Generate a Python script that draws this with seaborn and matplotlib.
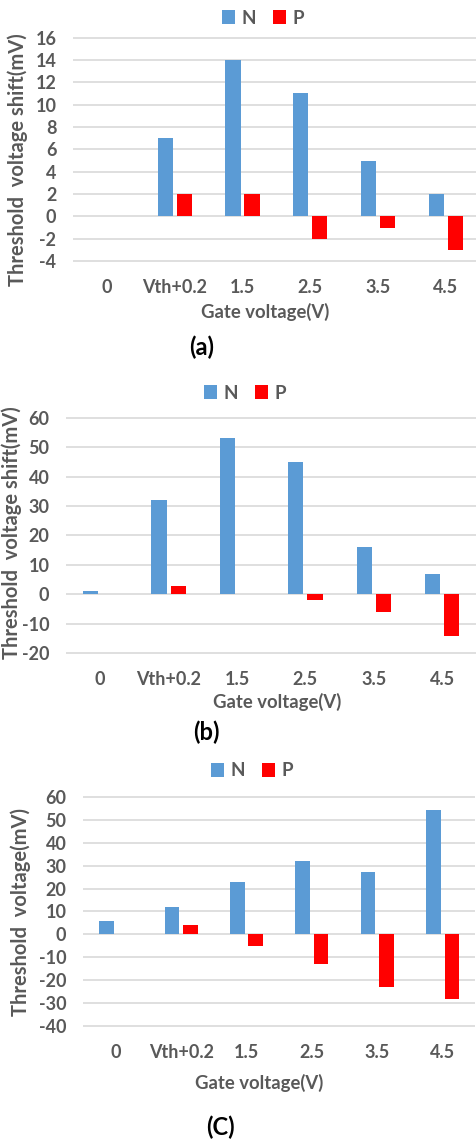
import matplotlib
matplotlib.use("Agg")
import matplotlib.pyplot as plt
import seaborn as sns
import pandas as pd
from matplotlib.patches import Patch

# Gate-voltage categories shared by all three panels
gate_labels = ["0", "Vth+0.2", "1.5", "2.5", "3.5", "4.5"]

# Panel (a): threshold voltage shift (mV)
a_n = [0, 7, 14, 11, 5, 2]
a_p = [0, 2, 2, -2, -1, -3]
a_ticks = [-4, -2, 0, 2, 4, 6, 8, 10, 12, 14, 16]

# Panel (b): threshold voltage shift (mV)
b_n = [1, 32, 53, 45, 16, 7]
b_p = [0, 3, 0, -2, -6, -14]
b_ticks = [-20, -10, 0, 10, 20, 30, 40, 50, 60]

# Panel (c): threshold voltage (mV)
c_n = [6, 12, 23, 32, 27, 54]
c_p = [0, 4, -5, -13, -23, -28]
c_ticks = [-40, -30, -20, -10, 0, 10, 20, 30, 40, 50, 60]

series_names = ["N", "P"]
series_colors = {"N": "#5B9BD5", "P": "#FF0000"}
TEXT = "#595959"
GRID = "#D9D9D9"

sns.set_theme(style="white")
plt.rcParams["font.family"] = ["Lato", "DejaVu Sans"]
plt.rcParams["font.weight"] = "bold"

W, H = 477, 1140
fig = plt.figure(figsize=(W / 100, H / 100), dpi=100)


def fx(x):
    return x / W


def fy(y):
    return 1 - y / H


def panel(n_vals, p_vals, ticks, box, spacing, ylabel, ylabel_xy,
          xlabel_xy, legend_xy, caption, caption_xy):
    left, right, top, bottom = box
    ax = fig.add_axes([fx(left), fy(bottom), (right - left) / W, (bottom - top) / H])
    df = pd.DataFrame({
        "gate": gate_labels * 2,
        "value": list(n_vals) + list(p_vals),
        "type": ["N"] * len(n_vals) + ["P"] * len(p_vals),
    })
    sns.barplot(data=df, x="gate", y="value", hue="type", order=gate_labels,
                hue_order=series_names, palette=series_colors, saturation=1,
                width=0.56, gap=0.2, dodge=True, linewidth=0, errorbar=None,
                ax=ax, legend=False, zorder=3)
    ax.set_xlim(-0.5, (right - left) / spacing - 0.5)
    span = ticks[-1] - ticks[0]
    ax.set_ylim(ticks[0] - span * 0.004, ticks[-1] + span * 0.004)
    ax.set_yticks(ticks)
    ax.set_yticklabels([str(t) for t in ticks])
    for sp in ax.spines.values():
        sp.set_visible(False)
    ax.yaxis.grid(True, color=GRID, linewidth=1.2, zorder=0)
    ax.xaxis.grid(False)
    ax.set_axisbelow(True)
    ax.tick_params(axis="both", length=0, labelsize=13, labelcolor=TEXT)
    ax.tick_params(axis="y", pad=12)
    ax.tick_params(axis="x", pad=12)
    for lab in ax.get_xticklabels() + ax.get_yticklabels():
        lab.set_fontweight("bold")
    ax.set_xlabel("")
    ax.set_ylabel("")
    fig.text(fx(xlabel_xy[0]), fy(xlabel_xy[1]), "Gate voltage(V)", ha="center",
             va="center", fontsize=13.3, fontweight="bold", color=TEXT)
    fig.text(fx(ylabel_xy[0]), fy(ylabel_xy[1]), ylabel, ha="center", va="center",
             rotation=90, fontsize=14.5, fontweight="bold", color=TEXT)
    handles = [Patch(facecolor=series_colors[s], edgecolor="none", label=s)
               for s in series_names]
    leg = fig.legend(handles=handles, loc="center", ncol=2,
                     bbox_to_anchor=(fx(legend_xy[0]), fy(legend_xy[1])),
                     frameon=False, fontsize=13.5, handlelength=0.7,
                     handleheight=0.7, handletextpad=0.35, columnspacing=0.9)
    for t in leg.get_texts():
        t.set_color(TEXT)
        t.set_fontweight("bold")
    fig.text(fx(caption_xy[0]), fy(caption_xy[1]), caption, ha="center", va="center",
             fontsize=17, fontweight="bold", color="#000000")
    return ax


panel(a_n, a_p, a_ticks, (73, 477, 36.7, 262), 67.8,
      "Threshold  voltage shift(mV)", (18, 160), (265, 312), (263, 18),
      "(a)", (202, 347))
panel(b_n, b_p, b_ticks, (66, 477, 416.7, 654.3), 68.4,
      "Threshold  voltage shift(mV)", (12, 533), (277, 702), (245, 393),
      "(b)", (206, 732))
panel(c_n, c_p, c_ticks, (83, 475, 795.7, 1027.3), 65.4,
      "Threshold  voltage(mV)", (21, 912), (259, 1083), (252, 771),
      "(C)", (220, 1127))

fig.savefig("out.png", dpi=100, facecolor="white")
